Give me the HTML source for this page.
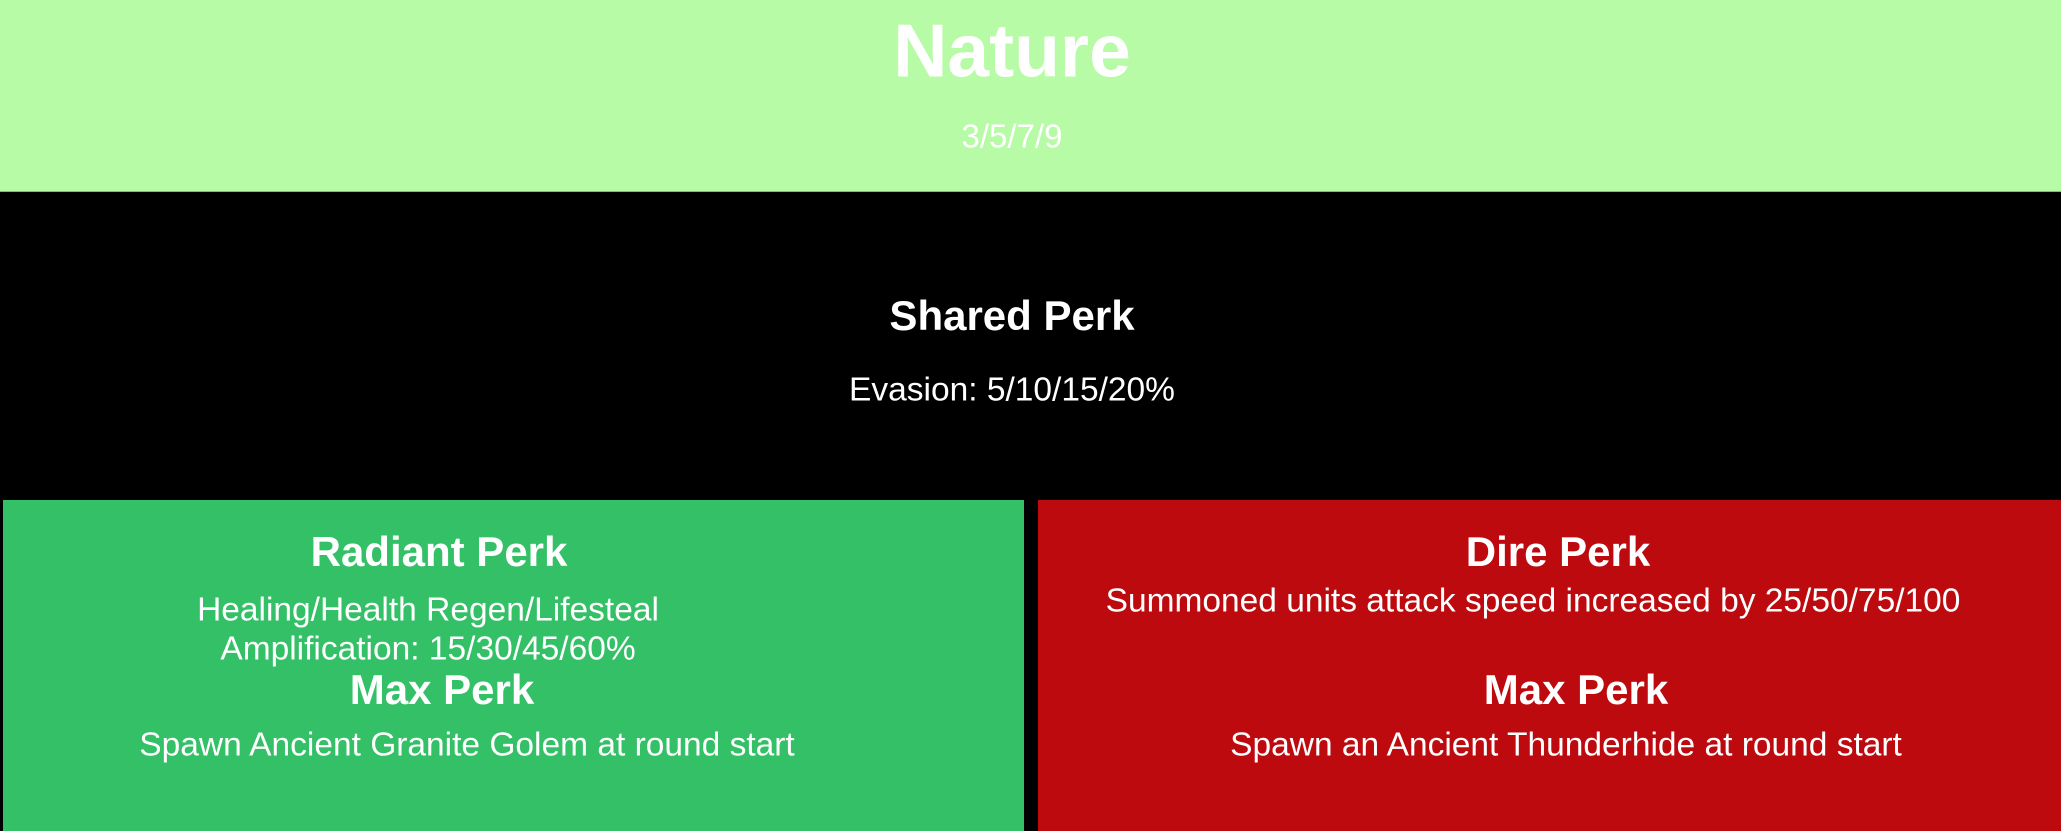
<!DOCTYPE html>
<html><head><style>
body{margin:0;width:2061px;height:831px;background:#000;position:relative;overflow:hidden;font-family:"Liberation Sans",Arial,sans-serif;color:#fff}
.a{position:absolute;white-space:nowrap;transform:translate(-50%,-50%);line-height:1}
.b{font-weight:bold}
</style></head><body>
<div style="position:absolute;left:0;top:0;width:2061px;height:191px;background:#b8fba6;border-bottom:1px solid #a8b050"></div>
<div style="position:absolute;left:3px;top:500px;width:1021px;height:331px;background:#33c066"></div>
<div style="position:absolute;left:1038px;top:500px;width:1023px;height:331px;background:#bd0a0e"></div>
<div class="a b" style="left:1012px;top:51px;font-size:75px">Nature</div>
<div class="a" style="left:1012px;top:136px;font-size:33px">3/5/7/9</div>
<div class="a b" style="left:1012px;top:316px;font-size:42px">Shared Perk</div>
<div class="a" style="left:1012px;top:390px;font-size:33.5px">Evasion: 5/10/15/20%</div>
<div class="a b" style="left:439px;top:552px;font-size:42px">Radiant Perk</div>
<div class="a" style="left:428px;top:610px;font-size:33.5px">Healing/Health Regen/Lifesteal</div>
<div class="a" style="left:428px;top:649px;font-size:33.5px">Amplification: 15/30/45/60%</div>
<div class="a b" style="left:442px;top:690px;font-size:42px">Max Perk</div>
<div class="a" style="left:467px;top:745px;font-size:33.5px">Spawn Ancient Granite Golem at round start</div>
<div class="a b" style="left:1558px;top:552px;font-size:42px">Dire Perk</div>
<div class="a" style="left:1533px;top:601px;font-size:33.5px">Summoned units attack speed increased by 25/50/75/100</div>
<div class="a b" style="left:1576px;top:690px;font-size:42px">Max Perk</div>
<div class="a" style="left:1566px;top:745px;font-size:33.5px">Spawn an Ancient Thunderhide at round start</div>
</body></html>
